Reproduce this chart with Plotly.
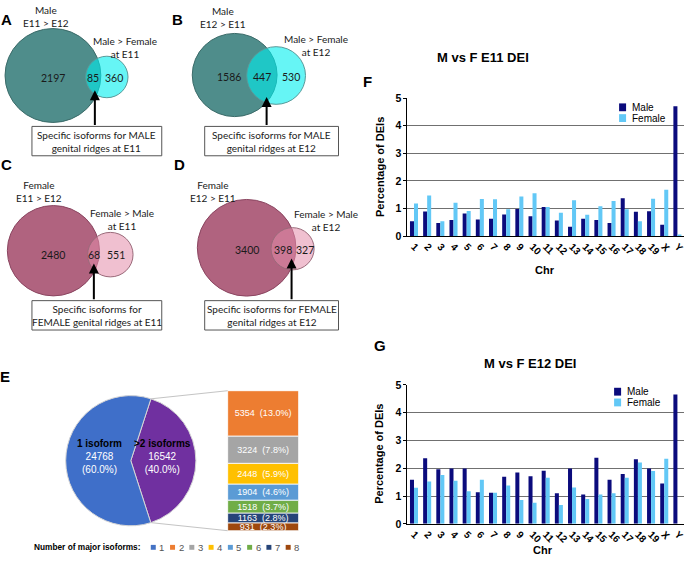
import math
import plotly.graph_objects as go

W, H = 685, 569

# ---------------- data ----------------
chromosomes = ['1', '2', '3', '4', '5', '6', '7', '8', '9', '10', '11', '12', '13', '14',
               '15', '16', '17', '18', '19', 'X', 'Y']
e11_male = [0.54, 0.89, 0.47, 0.58, 0.82, 0.60, 0.63, 0.78, 0.98, 0.72, 1.05,
            0.56, 0.34, 0.63, 0.58, 0.47, 1.37, 0.88, 0.90, 0.41, 4.70]
e11_female = [1.18, 1.47, 0.54, 1.21, 0.91, 1.34, 1.33, 0.97, 1.43, 1.55, 1.05,
              0.84, 1.30, 0.77, 1.08, 1.27, 0.97, 0.54, 1.35, 1.68, 0.06]
e12_male = [1.59, 2.36, 1.96, 1.99, 1.99, 1.14, 1.12, 1.69, 1.85, 1.71, 1.91,
            1.10, 1.99, 1.06, 2.38, 1.59, 1.79, 2.32, 1.99, 1.45, 4.65]
e12_female = [1.30, 1.52, 1.76, 1.55, 1.17, 1.59, 1.12, 1.38, 0.86, 0.76, 1.66,
              0.68, 1.31, 0.89, 1.06, 1.10, 1.66, 2.21, 1.90, 2.34, 0.0]
yticks = [0, 1, 2, 3, 4, 5]

isoform_groups = ['1', '2', '3', '4', '5', '6', '7', '8']
isoform_counts = [24768, 5354, 3224, 2448, 1904, 1518, 1163, 931]
pie_labels = ['1 isoform', '>2 isoforms']

venn_panels = ['A', 'B', 'C', 'D']
venn_only_big = [2197, 1586, 2480, 3400]
venn_overlap = [85, 447, 68, 398]
venn_only_small = [360, 530, 551, 327]
venn_big_labels = ['Male<br>E11 > E12', 'Male<br>E12 > E11', 'Female<br>E11 > E12', 'Female<br>E12 > E11']
venn_small_labels = ['Male > Female<br>at E11', 'Male > Female<br>at E12',
                     'Female > Male<br>at E11', 'Female > Male<br>at E12']
venn_box_labels = ['Specific isoforms for MALE<br>genital ridges at E11',
                   'Specific isoforms for MALE<br>genital ridges at E12',
                   'Specific isoforms for<br>FEMALE genital ridges at E11',
                   'Specific isoforms for FEMALE<br>genital ridges at E12']

# ---------------- styles / layout constants (pixels) ----------------
ARIAL = 'Liberation Sans'
CALIBRI = 'Lato'
MALE_C = '#0b0b7c'
FEMALE_C = '#62c8f6'
iso_colors = ['#4472c4', '#ed7d31', '#a5a5a5', '#ffc000', '#5b9bd5', '#70ad47', '#264478', '#9e480e']
PIE_COLORS = ['#7030a0', '#3f6fc9']

# Venn layout: circle centres (pixels) and pixel scale for sqrt(count/pi)
venn_big_center = [(53, 71), (235, 70.5), (53.5, 250), (247, 247)]
venn_small_center = [(107, 72.5), (276.5, 71), (110.5, 254), (293, 248)]
venn_scale = [1.78, 1.67, 1.62, 1.42]
venn_big_fill = ['#4f8d8b', '#4f8d8b', '#b0637f', '#b0637f']
venn_big_edge = ['#3b6b69', '#3b6b69', '#8a4560', '#8a4560']
venn_small_fill = ['rgba(0,238,238,0.6)', 'rgba(0,238,238,0.6)',
                   'rgba(228,140,170,0.55)', 'rgba(228,140,170,0.55)']
venn_small_edge = ['#5a9a9a', '#5a9a9a', '#9a6a7a', '#9a6a7a']
venn_big_label_pos = [(46, 11), (223, 12), (39, 189), (213, 189)]
venn_small_label_pos = [(125, 42), (316, 40), (122, 218), (326, 219)]
venn_arrow_tip = [(95, 86), (267, 93), (94, 263), (292, 258)]
venn_box = [(32, 123, 162, 153), (205, 123, 339, 153), (32, 301, 162, 331), (205, 301, 339, 331)]
panel_letters = [('A', 7, 14), ('B', 178, 14), ('C', 7, 162), ('D', 180, 162),
                 ('E', 5, 378), ('F', 368, 77), ('G', 381, 347)]

PIE_CX, PIE_CY, PIE_R = 131, 464.5, 66.5
PIE_ROT = 18
BAR_L, BAR_R, BAR_T, BAR_B = 228, 299, 393, 536


def px_x(v):
    return v / W


def px_y(v):
    return 1 - v / H


fig = go.Figure()
shapes = []
ann = []

# ---------------- F and G bar charts ----------------
for (m, f, xa, ya) in [(e11_male, e11_female, 'x', 'y'), (e12_male, e12_female, 'x2', 'y2')]:
    fig.add_trace(go.Bar(x=chromosomes, y=m, name='Male', marker=dict(color=MALE_C, line=dict(width=0)),
                         xaxis=xa, yaxis=ya, showlegend=False, hoverinfo='skip'))
    fig.add_trace(go.Bar(x=chromosomes, y=f, name='Female', marker=dict(color=FEMALE_C, line=dict(width=0)),
                         xaxis=xa, yaxis=ya, showlegend=False, hoverinfo='skip'))

# ---------------- E stacked bar ----------------
grand = sum(isoform_counts)
multi_total = sum(isoform_counts[1:])
base = 0
for grp, cnt, col in reversed(list(zip(isoform_groups[1:], isoform_counts[1:], iso_colors[1:]))):
    fig.add_trace(go.Bar(
        x=['multi'], y=[cnt], base=[base], width=1, offset=-0.5, offsetgroup='stack',
        marker=dict(color=col, line=dict(color='white', width=0.8)),
        text=[f'{cnt}  ({cnt / grand * 100:.1f}%)'], textposition='inside',
        insidetextanchor='middle', textangle=0,
        textfont=dict(family=ARIAL, size=9, color='white'),
        xaxis='x3', yaxis='y3', showlegend=False, hoverinfo='skip'))
    base += cnt

# ---------------- pie ----------------
pie_values = [multi_total, isoform_counts[0]]
fig.add_trace(go.Pie(
    values=pie_values, labels=[pie_labels[1], pie_labels[0]], sort=False, direction='clockwise',
    rotation=PIE_ROT, textinfo='none', hoverinfo='skip', showlegend=False,
    marker=dict(colors=PIE_COLORS, line=dict(color='#d6d6d6', width=1)),
    domain=dict(x=[px_x(PIE_CX - PIE_R), px_x(PIE_CX + PIE_R)],
                y=[px_y(PIE_CY + PIE_R), px_y(PIE_CY - PIE_R)])))

# pixel overlay axis
fig.add_trace(go.Scatter(x=[], y=[], xaxis='x5', yaxis='y5', showlegend=False))

# pie labels
ang0 = PIE_ROT
span_multi = 360 * multi_total / grand
span_single = 360 * isoform_counts[0] / grand
mid_multi = ang0 + span_multi / 2
mid_single = ang0 + span_multi + span_single / 2
for mid, lab, val in [(mid_single, pie_labels[0], isoform_counts[0]), (mid_multi, pie_labels[1], multi_total)]:
    th = math.radians(mid)
    tx = PIE_CX + 0.47 * PIE_R * math.sin(th)
    ty = PIE_CY - 0.47 * PIE_R * math.cos(th) - 4
    ann.append(dict(x=tx, y=ty, xref='x5', yref='y5', showarrow=False,
                    text=f"<b>{lab}</b><br><span style='color:white'>{val}<br>({val / grand * 100:.1f}%)</span>",
                    font=dict(family=ARIAL, size=10, color='black'), align='center'))

# connector lines from pie to stacked bar
for ang, by in [(ang0, BAR_T), (ang0 + span_multi, BAR_B)]:
    th = math.radians(ang)
    sx = PIE_CX + PIE_R * math.sin(th)
    sy = PIE_CY - PIE_R * math.cos(th)
    shapes.append(dict(type='line', xref='x5', yref='y5', x0=sx, y0=sy, x1=BAR_L, y1=by,
                       line=dict(color='#c4c4c4', width=1)))

# legend row for E
ann.append(dict(x=32, y=553, xref='x5', yref='y5', xanchor='left', showarrow=False,
                text='<b>Number of major isoforms:</b>', font=dict(family=ARIAL, size=8.3, color='black')))
for i, (g, c) in enumerate(zip(isoform_groups, iso_colors)):
    sx = 151 + 19.3 * i
    shapes.append(dict(type='rect', xref='x5', yref='y5', x0=sx, x1=sx + 5, y0=550.5, y1=555.5,
                       fillcolor=c, line=dict(width=0)))
    ann.append(dict(x=sx + 6.5, y=553, xref='x5', yref='y5', xanchor='left', showarrow=False,
                    text=g, font=dict(family=ARIAL, size=9.5, color='#555555')))

# ---------------- Venn diagrams ----------------
for i in range(4):
    big_total = venn_only_big[i] + venn_overlap[i]
    small_total = venn_only_small[i] + venn_overlap[i]
    k = venn_scale[i]
    r1 = k * math.sqrt(big_total / math.pi)
    r2 = k * math.sqrt(small_total / math.pi)
    cx, cy = venn_big_center[i]
    sx, sy = venn_small_center[i]
    shapes.append(dict(type='circle', xref='x5', yref='y5', x0=cx - r1, x1=cx + r1, y0=cy - r1, y1=cy + r1,
                       fillcolor=venn_big_fill[i], line=dict(color=venn_big_edge[i], width=1)))
    shapes.append(dict(type='circle', xref='x5', yref='y5', x0=sx - r2, x1=sx + r2, y0=sy - r2, y1=sy + r2,
                       fillcolor=venn_small_fill[i], line=dict(color=venn_small_edge[i], width=1)))
    lens_l, lens_r = sx - r2, cx + r1
    num_font = dict(family=CALIBRI, size=10.5, color='#1a1a1a')
    ny = (cy + sy) / 2 + 2
    ann.append(dict(x=min(cx, lens_l - 18), y=ny, xref='x5', yref='y5', showarrow=False,
                    text=str(venn_only_big[i]), font=num_font))
    ann.append(dict(x=(lens_l + lens_r) / 2, y=ny, xref='x5', yref='y5', showarrow=False,
                    text=str(venn_overlap[i]), font=num_font))
    ann.append(dict(x=(lens_r + sx + r2) / 2, y=ny, xref='x5', yref='y5', showarrow=False,
                    text=str(venn_only_small[i]), font=num_font))
    lx, ly = venn_big_label_pos[i]
    ann.append(dict(x=lx, y=ly, xref='x5', yref='y5', showarrow=False, text=venn_big_labels[i],
                    font=dict(family=CALIBRI, size=10, color='#1a1a1a')))
    lx, ly = venn_small_label_pos[i]
    ann.append(dict(x=lx, y=ly, xref='x5', yref='y5', showarrow=False, text=venn_small_labels[i],
                    font=dict(family=CALIBRI, size=10, color='#1a1a1a')))
    bx0, by0, bx1, by1 = venn_box[i]
    shapes.append(dict(type='rect', xref='x5', yref='y5', x0=bx0, x1=bx1, y0=by0, y1=by1,
                       fillcolor='white', line=dict(color='#555555', width=1)))
    ann.append(dict(x=(bx0 + bx1) / 2, y=(by0 + by1) / 2, xref='x5', yref='y5', showarrow=False,
                    text=venn_box_labels[i], font=dict(family=CALIBRI, size=10, color='#1a1a1a')))
    tx, ty = venn_arrow_tip[i]
    ann.append(dict(x=tx, y=ty, ax=tx, ay=by0, xref='x5', yref='y5', axref='x5', ayref='y5',
                    showarrow=True, arrowhead=2, arrowsize=1, arrowwidth=2, arrowcolor='black', text=''))

# panel letters
for letter, lx, ly in panel_letters:
    ann.append(dict(x=lx, y=ly, xref='x5', yref='y5', showarrow=False, text=f'<b>{letter}</b>',
                    font=dict(family=ARIAL, size=15, color='black')))

# chart titles and axis titles
for (title, tx, ty, ycen, chr_x, chr_y) in [('M vs F E11 DEI', 484, 53, 164, 546, 270),
                                             ('M vs F E12 DEI', 531, 365, 457, 544, 556)]:
    ann.append(dict(x=tx, y=ty, xref='x5', yref='y5', showarrow=False, text=f'<b>{title}</b>',
                    font=dict(family=ARIAL, size=13, color='black')))
    ann.append(dict(x=380, y=ycen, xref='x5', yref='y5', showarrow=False, text='<b>Percentage of DEIs</b>',
                    textangle=-90, font=dict(family=ARIAL, size=11, color='black')))
    ann.append(dict(x=chr_x, y=chr_y, xref='x5', yref='y5', showarrow=False, text='<b>Chr</b>',
                    font=dict(family=ARIAL, size=11, color='black')))

# manual legends for F and G
for (lx, ly) in [(620, 99.5), (615, 390)]:
    for j, (nm, col) in enumerate([('Male', MALE_C), ('Female', FEMALE_C)]):
        y0 = ly + j * 11
        shapes.append(dict(type='rect', xref='x5', yref='y5', x0=lx, x1=lx + 7, y0=y0, y1=y0 + 8,
                           fillcolor=col, line=dict(width=0)))
        ann.append(dict(x=lx + 11, y=y0 + 4, xref='x5', yref='y5', xanchor='left', showarrow=False,
                        text=nm, font=dict(family=ARIAL, size=10, color='black')))

# ---------------- axes ----------------
xdom = [px_x(408), px_x(685)]
common_x = dict(domain=xdom, type='category', range=[-0.5, len(chromosomes) - 0.5], showgrid=False,
                showline=True, linecolor='black', linewidth=1, ticks='', tickangle=45,
                tickfont=dict(family=ARIAL, size=10, color='black', weight='bold'), fixedrange=True)
common_y = dict(range=[0, 5], tickvals=yticks, showgrid=True, gridcolor='#707070', gridwidth=1,
                showline=True, linecolor='black', linewidth=1, ticks='outside', ticklen=3,
                tickcolor='black', zeroline=False,
                tickfont=dict(family=ARIAL, size=10.5, color='black', weight='bold'), fixedrange=True)

fig.update_layout(
    width=W, height=H, autosize=False,
    margin=dict(l=0, r=0, t=0, b=0, pad=0),
    paper_bgcolor='white', plot_bgcolor='rgba(0,0,0,0)',
    barmode='group', bargap=0.39, bargroupgap=0,
    uniformtext=dict(minsize=9, mode='show'),
    xaxis=dict(**common_x, anchor='y'),
    yaxis=dict(**common_y, domain=[px_y(235), px_y(94)], anchor='x'),
    xaxis2=dict(**common_x, anchor='y2'),
    yaxis2=dict(**common_y, domain=[px_y(529), px_y(387)], anchor='x2'),
    xaxis3=dict(domain=[px_x(BAR_L), px_x(BAR_R)], range=[-0.5, 0.5], visible=False, anchor='y3',
                fixedrange=True),
    yaxis3=dict(domain=[px_y(BAR_B), px_y(BAR_T)], range=[0, multi_total], visible=False, anchor='x3',
                fixedrange=True),
    xaxis5=dict(domain=[0, 1], range=[0, W], visible=False, anchor='y5', fixedrange=True),
    yaxis5=dict(domain=[0, 1], range=[H, 0], visible=False, anchor='x5', fixedrange=True),
    shapes=shapes, annotations=ann,
)

fig.write_html('out.html')
